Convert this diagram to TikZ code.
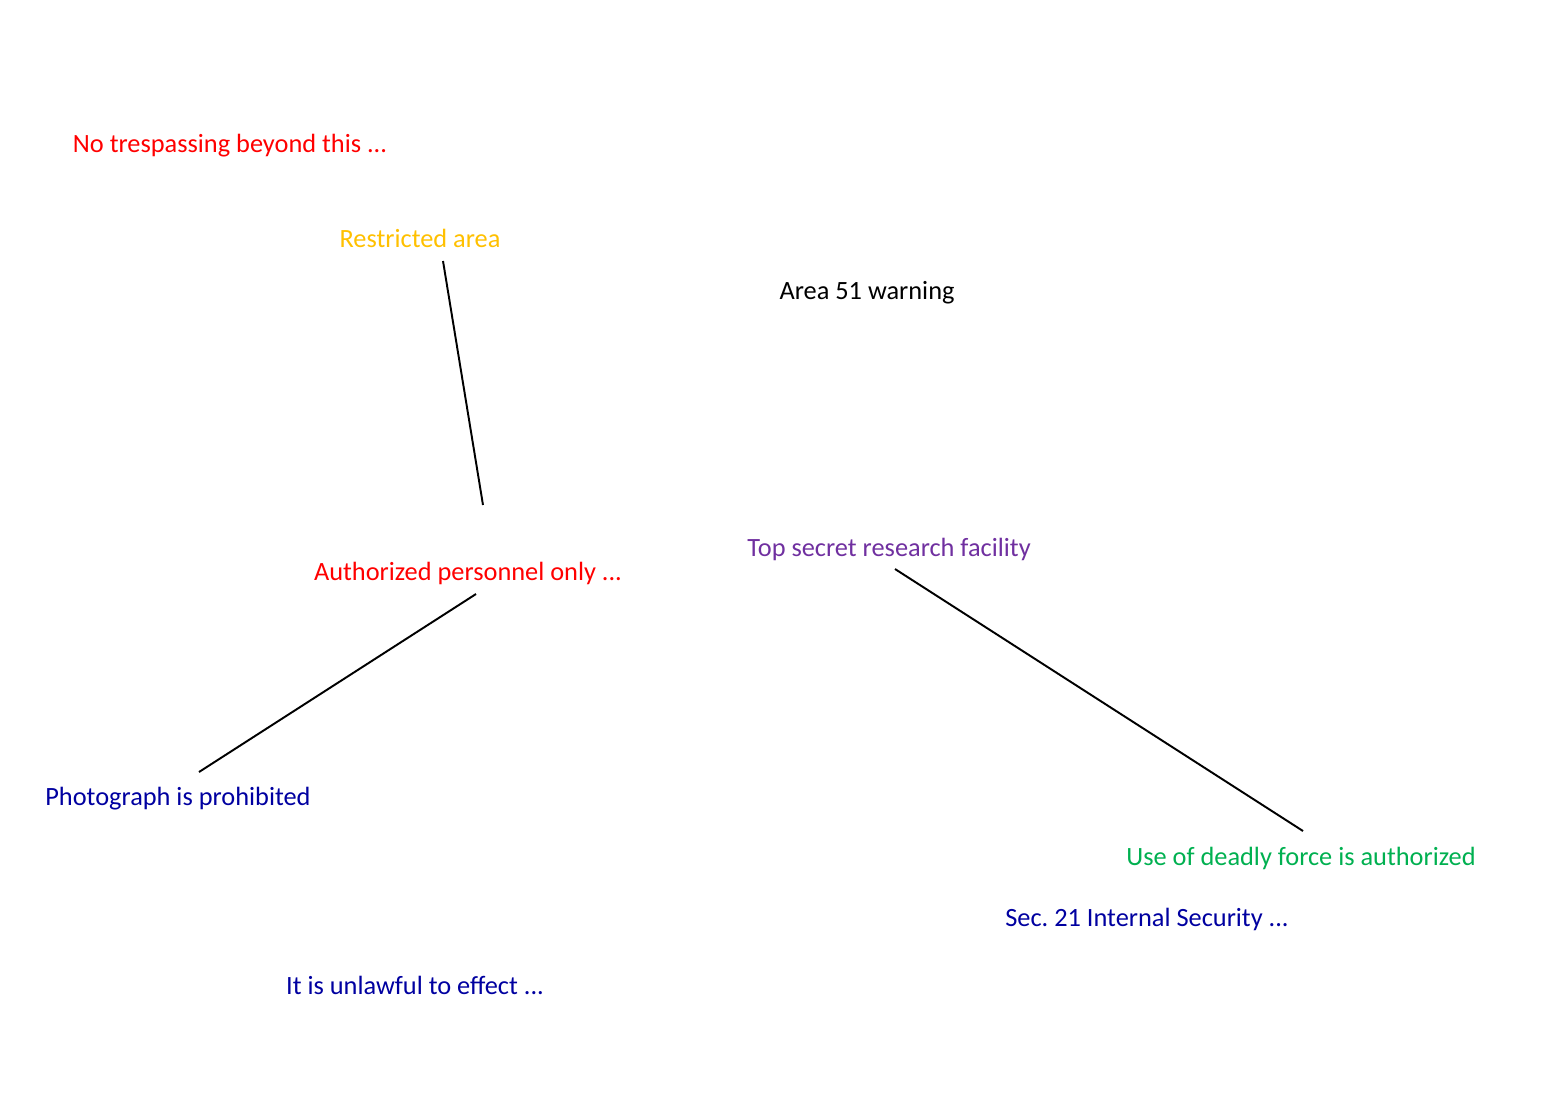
\documentclass[tikz,border=0pt]{standalone}
\usepackage{fontspec}
\setmainfont{Carlito}
\usepackage{tikz}
\usetikzlibrary{calc}
\frenchspacing

\definecolor{signred}{HTML}{FF0000}
\definecolor{signyellow}{HTML}{FFC000}
\definecolor{signpurple}{HTML}{7030A0}
\definecolor{signgreen}{HTML}{00B050}
\definecolor{signblue}{HTML}{0000A0}

\begin{document}
\begin{tikzpicture}[x=0.02cm,y=-0.02cm,
	sign/.style={inner sep=0pt,font=\fontsize{15pt}{18pt}\selectfont},
	wire/.style={black,line width=1.1pt}]
	
	%the frame
	\useasboundingbox (0,0) rectangle (1550,1100);
	
	% the signs
	\node[sign,signred] (trespass) at (230,146) {No trespassing beyond this ...};
	\node[sign,signyellow] (restricted) at (420,238) {Restricted area};
	\node[sign,black] (warning) at (867,293) {Area 51 warning};
	\node[sign,signred] (personnel) at (468,573) {Authorized personnel only ...};
	\node[sign,signpurple] (facility) at (889,549) {Top secret research facility};
	\node[sign,signblue] (photo) at (178,799) {Photograph is prohibited};
	\node[sign,signgreen] (force) at (1301,858) {Use of deadly force is authorized};
	\node[sign,signblue] (security) at (1147,919) {Sec. 21 Internal Security ...};
	\node[sign,signblue] (unlawful) at (415,985) {It is unlawful to effect ...};
	
	% the links
	\draw[wire] ($(restricted.center)+(23,23)$) -- ($(personnel.center)+(15,-68)$);
	\draw[wire] ($(personnel.center)+(8,21)$) -- ($(photo.center)+(21,-27)$);
	\draw[wire] ($(facility.center)+(6,20)$) -- ($(force.center)+(2,-27)$);
\end{tikzpicture}
\end{document}
